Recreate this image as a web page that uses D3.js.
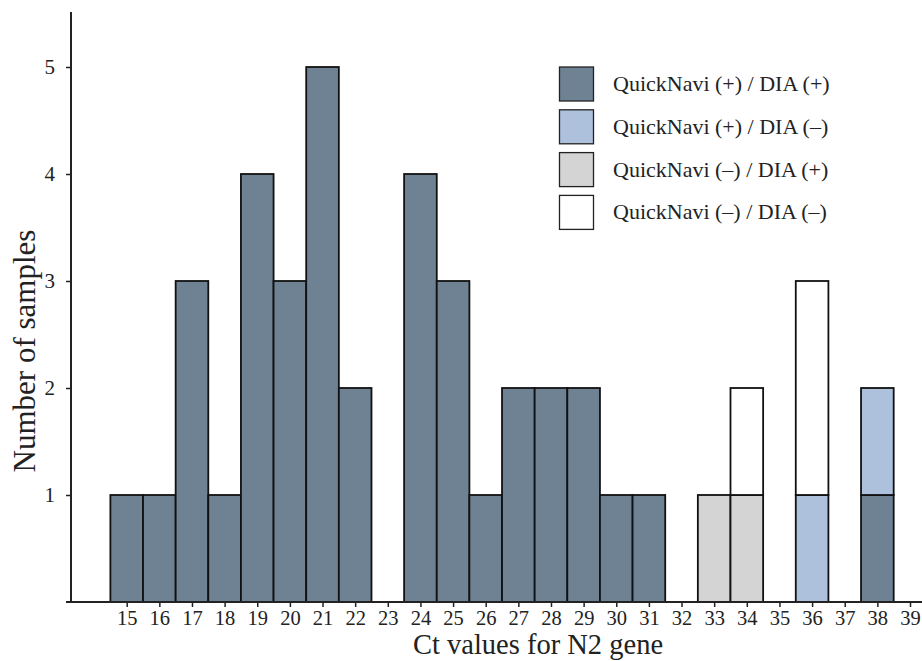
<!DOCTYPE html>
<html><head><meta charset="utf-8">
<script src="https://cdn.jsdelivr.net/npm/d3@7"></script>
<style>body{margin:0;background:#fff}svg{display:block}text{font-family:"Liberation Serif","Times New Roman",serif;fill:#222}</style>
</head><body>
<svg id="c" width="922" height="661"></svg>
<script>
const ctValues = [15,16,17,18,19,20,21,22,23,24,25,26,27,28,29,30,31,32,33,34,35,36,37,38,39];
const posPos = [1,1,3,1,4,3,5,2,0,4,3,1,2,2,2,1,1,0,0,0,0,0,0,1,0];
const posNeg = [0,0,0,0,0,0,0,0,0,0,0,0,0,0,0,0,0,0,0,0,0,1,0,1,0];
const negPos = [0,0,0,0,0,0,0,0,0,0,0,0,0,0,0,0,0,0,1,1,0,0,0,0,0];
const negNeg = [0,0,0,0,0,0,0,0,0,0,0,0,0,0,0,0,0,0,0,1,0,2,0,0,0];
const seriesNames = ["QuickNavi (+) / DIA (+)","QuickNavi (+) / DIA (\u2013)","QuickNavi (\u2013) / DIA (+)","QuickNavi (\u2013) / DIA (\u2013)"];
const yTicks = [1,2,3,4,5];
const colors = ["#6f8294","#adc1dd","#d4d4d4","#ffffff"];

const svg = d3.select("#c");
const x = d3.scaleLinear().domain([15,39]).range([126.7,910]);
const y = d3.scaleLinear().domain([0,5.5]).range([602,13.5]);
const bw = x(16)-x(15);

const rows = ctValues.map((c,i)=>({ct:c,s0:posPos[i],s1:posNeg[i],s2:negPos[i],s3:negNeg[i]}));
const stack = d3.stack().keys(["s0","s1","s2","s3"])(rows);

stack.forEach((layer,k)=>{
  svg.append("g").selectAll("rect").data(layer.filter(d=>d[1]-d[0]>0)).join("rect")
    .attr("x",d=>x(d.data.ct)-bw/2).attr("width",bw)
    .attr("y",d=>y(d[1])).attr("height",d=>y(d[0])-y(d[1]))
    .attr("fill",colors[k]).attr("stroke","#111").attr("stroke-width",1.8);
});

// axes
const xa = svg.append("g").attr("transform","translate(0,602)")
  .call(d3.axisBottom(x).tickValues(ctValues).tickFormat(d3.format("d")).tickSize(5).tickSizeOuter(0));
xa.select(".domain").remove();
xa.selectAll("line").attr("stroke","#222").attr("stroke-width",1.5);
xa.selectAll("text").attr("font-size","20.5px").attr("y",8).attr("dy","0.71em").style("font-family","Liberation Serif");
svg.append("line").attr("x1",66).attr("x2",922).attr("y1",602).attr("y2",602).attr("stroke","#222").attr("stroke-width",2);

const ya = svg.append("g").attr("transform","translate(71,0)")
  .call(d3.axisLeft(y).tickValues(yTicks).tickFormat(d3.format("d")).tickSize(5).tickSizeOuter(0));
ya.select(".domain").remove();
ya.selectAll("line").attr("stroke","#222").attr("stroke-width",1.5);
ya.selectAll("text").attr("font-size","21px").attr("x",-16).style("font-family","Liberation Serif");
svg.append("line").attr("x1",71).attr("x2",71).attr("y1",12).attr("y2",603).attr("stroke","#222").attr("stroke-width",2);

svg.append("text").attr("x",538).attr("y",654).attr("text-anchor","middle").attr("font-size","28.5px").text("Ct values for N2 gene");
svg.append("text").attr("transform","translate(35,351) rotate(-90)").attr("text-anchor","middle").attr("font-size","31px").text("Number of samples");

const lg = svg.append("g");
seriesNames.forEach((n,i)=>{
  const yy = 67 + i*42.8;
  lg.append("rect").attr("x",559.5).attr("y",yy).attr("width",34).attr("height",34)
    .attr("fill",colors[i]).attr("stroke","#222").attr("stroke-width",1.3);
  lg.append("text").attr("x",613).attr("y",yy+24).attr("font-size","22px").text(n);
});
</script>
</body></html>
